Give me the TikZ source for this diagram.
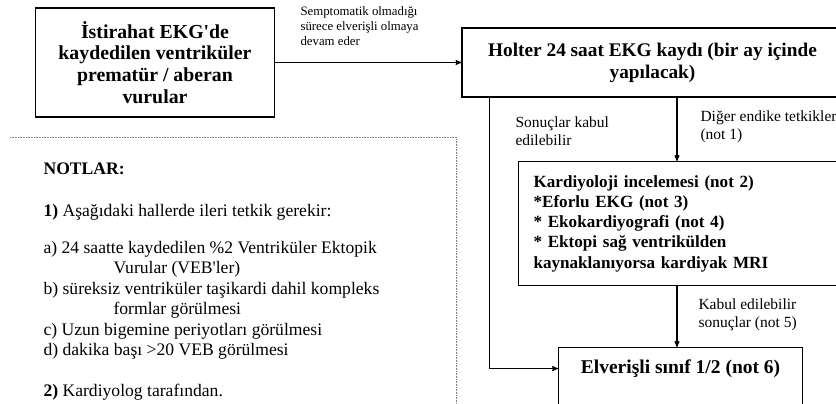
\documentclass[tikz,border=0pt]{standalone}
\usepackage{fontspec}
\setmainfont{Liberation Serif}
\usetikzlibrary{arrows,positioning}

\begin{document}
\begin{tikzpicture}[x=1pt,y=-1pt,->,>=stealth',line width=1.1pt,
  box node/.style={rectangle,draw,fill=white,align=center,inner sep=0pt},
  list node/.style={rectangle,draw,fill=white,align=left,inner xsep=15pt,inner ysep=0pt},
  label node/.style={align=left,inner sep=0pt,anchor=north west,font=\fontsize{15.5}{18}\selectfont}]

  \useasboundingbox (0,0) rectangle (836,404);

  % kutular
  \node[box node,minimum width=239pt,minimum height=109pt,
    font=\fontsize{19.8}{21.8}\selectfont\bfseries] (rest) at (155,62.5)
    {İstirahat EKG\textquotesingle de\\kaydedilen ventriküler\\prematür / aberan\\vurular};
  \node[box node,minimum width=381pt,minimum height=69pt,
    font=\fontsize{19.3}{22}\selectfont\bfseries] (holter) at (652.5,62.5)
    {Holter 24 saat EKG kaydı (bir ay içinde\\yapılacak)};
  \node[list node,anchor=north west,text width=325pt,minimum height=124pt,
    font=\fontsize{17.1}{20.2}\selectfont\bfseries] (kard) at (518,161)
    {Kardiyoloji incelemesi (not 2)\\{*}Eforlu EKG (not 3)\\{*} Ekokardiyografi (not 4)\\{*} Ektopi sağ ventrikülden\\kaynaklanıyorsa kardiyak MRI};
  \node[box node,anchor=north west,minimum width=244pt,text height=14pt,text depth=32pt,
    inner ysep=12pt,font=\fontsize{19.5}{22}\selectfont\bfseries] (elv) at (558,347)
    {Elverişli sınıf 1/2 (not 6)};

  % etiketler
  \node[label node,font=\fontsize{12.8}{15}\selectfont] (sempt) at (300,6)
    {Semptomatik olmadığı\\sürece elverişli olmaya\\devam eder};
  \node[label node] (sonuc) at (515,116) {Sonuçlar kabul\\edilebilir};
  \node[label node] (diger) at (700,110) {Diğer endike tetkikler\\(not 1)};
  \node[label node] (kabul) at (698,298) {Kabul edilebilir\\sonuçlar (not 5)};

  \coordinate (spine) at (677,0);

  \path (rest) edge (holter)
    (holter.south -| spine) edge (kard.north -| spine)
    (kard.south -| spine) edge (elv.north -| spine)
    ;
  \draw ([xshift=28pt]holter.south west) |- ([yshift=5pt]elv.base west);

  % notlar
  \draw[-,densely dotted,line width=0.6pt,gray] (10,137) -| (456,410);
  \node[align=left,inner sep=0pt,anchor=north west,font=\fontsize{17.6}{20.5}\selectfont] (notes) at (43,162)
    {{\bfseries NOTLAR:}\\[21.5pt]
     {\bfseries 1)} Aşağıdaki hallerde ileri tetkik gerekir:\\[16.5pt]
     a) 24 saatte kaydedilen \%2 Ventriküler Ektopik\\
     \hspace*{70pt}Vurular (VEB\textquotesingle ler)\\
     b) süreksiz ventriküler taşikardi dahil kompleks\\
     \hspace*{70pt}formlar görülmesi\\
     c) Uzun bigemine periyotları görülmesi\\
     d) dakika başı >20 VEB görülmesi\\[20.5pt]
     {\bfseries 2)} Kardiyolog tarafından.};

\end{tikzpicture}
\end{document}
